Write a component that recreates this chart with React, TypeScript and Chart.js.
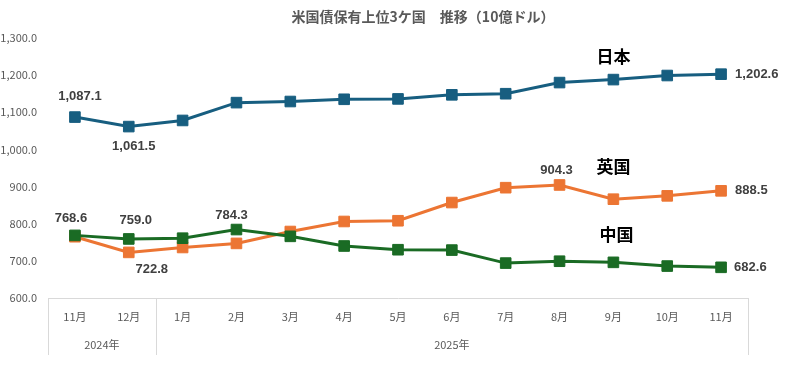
import React, { useEffect, useRef } from 'react';
import { Chart, registerables } from 'chart.js';

Chart.register(...registerables);

// ---- data ----
const months = ['11月', '12月', '1月', '2月', '3月', '4月', '5月', '6月', '7月', '8月', '9月', '10月', '11月'];
const yearLabels = ['2024年', '2025年'];
const yearStartIndex = [0, 2];
const yearEndIndex = [1, 12];

const japan = [1087.1, 1061.5, 1078, 1126, 1129, 1135, 1136, 1147, 1150, 1180, 1188, 1199, 1202.6];
const uk = [765, 722.8, 736, 747, 779, 806, 808, 857, 897, 904.3, 866, 875, 888.5];
const china = [768.6, 759.0, 761, 784.3, 766, 740, 730, 729, 694, 699, 696, 686, 682.6];

const seriesNames = ['日本', '英国', '中国'];
const seriesColors = ['#175E80', '#EC7533', '#1A6B24'];
const nameAnchorIndex = [10, 10, 10];
const nameAnchorValue = [1250, 953, 771];

const yMin = 600;
const yMax = 1300;
const yStep = 100;

const titleText = '米国債保有上位3ケ国　推移（10億ドル）';

// labelled points: [seriesIndex, pointIndex]
const labelSeries = [0, 0, 0, 1, 1, 1, 2, 2, 2, 2];
const labelPoints = [0, 1, 12, 1, 9, 12, 0, 1, 3, 12];
// placement (pixels offset from point)
const labelDx = [5, 5, 14, 23, -3, 14, -4, 7, -5, 13];
const labelDy = [-21, 19.5, 0, 17.5, -14.5, 0, -17, -19, -14.5, 0];
const labelAlign = ['center', 'center', 'left', 'center', 'center', 'left', 'center', 'center', 'center', 'left'];

const fmt = (v: number) =>
  v.toLocaleString('en-US', { minimumFractionDigits: 1, maximumFractionDigits: 1 });

const CJK = '"Noto Sans CJK JP", "Noto Sans", sans-serif';

const overlayPlugin = {
  id: 'overlay',
  afterDraw(chart: any) {
    const ctx = chart.ctx;
    const xs = chart.scales.x;
    const ys = chart.scales.y;
    const area = chart.chartArea;
    ctx.save();

    // title
    ctx.fillStyle = '#595959';
    ctx.font = `bold 14px ${CJK}`;
    ctx.textAlign = 'center';
    ctx.textBaseline = 'middle';
    ctx.fillText(titleText, 423, 17);

    // category group separators and year labels
    const half = (xs.getPixelForValue(1) - xs.getPixelForValue(0)) / 2;
    ctx.strokeStyle = '#D9D9D9';
    ctx.lineWidth = 1;
    const bottom = area.bottom + 57;
    for (let g = 0; g < yearLabels.length; g++) {
      const l = g === 0 ? area.left : xs.getPixelForValue(yearStartIndex[g]) - half;
      const r = g === yearLabels.length - 1 ? area.right : xs.getPixelForValue(yearEndIndex[g]) + half;
      ctx.beginPath();
      ctx.moveTo(Math.round(l) + 0.5, area.bottom);
      ctx.lineTo(Math.round(l) + 0.5, bottom);
      if (g === yearLabels.length - 1) {
        ctx.moveTo(Math.round(r) + 0.5, area.bottom);
        ctx.lineTo(Math.round(r) + 0.5, bottom);
      }
      ctx.stroke();
      ctx.fillStyle = '#595959';
      ctx.font = `11px ${CJK}`;
      ctx.textAlign = 'center';
      ctx.textBaseline = 'middle';
      ctx.fillText(yearLabels[g], (l + r) / 2, area.bottom + 47);
    }

    // data labels
    const all = [japan, uk, china];
    ctx.fillStyle = '#404040';
    ctx.font = 'bold 13px "Liberation Sans", Arial, sans-serif';
    ctx.textBaseline = 'middle';
    for (let i = 0; i < labelSeries.length; i++) {
      const s = labelSeries[i];
      const p = labelPoints[i];
      const v = all[s][p];
      const px = xs.getPixelForValue(p) + labelDx[i];
      const py = ys.getPixelForValue(v) + labelDy[i];
      ctx.textAlign = labelAlign[i];
      ctx.fillText(fmt(v), px, py);
    }

    // series names
    ctx.fillStyle = '#000000';
    ctx.font = `bold 17px ${CJK}`;
    ctx.textAlign = 'center';
    for (let i = 0; i < seriesNames.length; i++) {
      const px = xs.getPixelForValue(nameAnchorIndex[i]) + (i === 2 ? 3 : 0);
      const py = ys.getPixelForValue(nameAnchorValue[i]);
      ctx.fillText(seriesNames[i], px, py);
    }
    ctx.restore();
  },
};

function makeDataset(label: string, data: number[], color: string, order: number) {
  return {
    label,
    data,
    borderColor: color,
    backgroundColor: color,
    borderWidth: 3,
    pointStyle: 'rect',
    pointRadius: 7.5,
    pointHoverRadius: 7.5,
    pointBorderWidth: 1,
    pointBorderColor: color,
    pointBackgroundColor: color,
    tension: 0,
    clip: false,
    order,
  };
}

export default function App() {
  const ref = useRef<HTMLCanvasElement | null>(null);
  useEffect(() => {
    if (!ref.current) return;
    const chart = new Chart(ref.current, {
      type: 'line',
      data: {
        labels: months,
        datasets: [
          makeDataset(seriesNames[0], japan, seriesColors[0], 0),
          makeDataset(seriesNames[1], uk, seriesColors[1], 2),
          makeDataset(seriesNames[2], china, seriesColors[2], 1),
        ],
      },
      options: {
        responsive: false,
        animation: false,
        layout: { padding: { top: 38, right: 40, bottom: 0, left: 0 } },
        plugins: {
          legend: { display: false },
          title: { display: false },
          tooltip: { enabled: false },
        },
        scales: {
          x: {
            type: 'category',
            offset: true,
            grid: { display: false, drawTicks: false },
            border: { display: true, color: '#D9D9D9', width: 1 },
            ticks: {
              color: '#595959',
              font: { family: CJK, size: 11 },
              padding: 12,
              maxRotation: 0,
              autoSkip: false,
            },
            afterFit: (s: any) => {
              s.height = 71;
            },
          },
          y: {
            min: yMin,
            max: yMax,
            grid: { display: false, drawTicks: false },
            border: { display: false },
            ticks: {
              stepSize: yStep,
              color: '#595959',
              font: { family: CJK, size: 11 },
              padding: 11,
              callback: (v: any) => fmt(Number(v)),
            },
            afterFit: (s: any) => {
              s.width = 48;
            },
          },
        },
      },
      plugins: [overlayPlugin],
    } as any);
    return () => chart.destroy();
  }, []);

  return (
    <div style={{ position: 'absolute', left: 0, top: 0, width: 788, height: 369, background: '#fff' }}>
      <canvas ref={ref} width={788} height={369} style={{ display: 'block' }} />
    </div>
  );
}
